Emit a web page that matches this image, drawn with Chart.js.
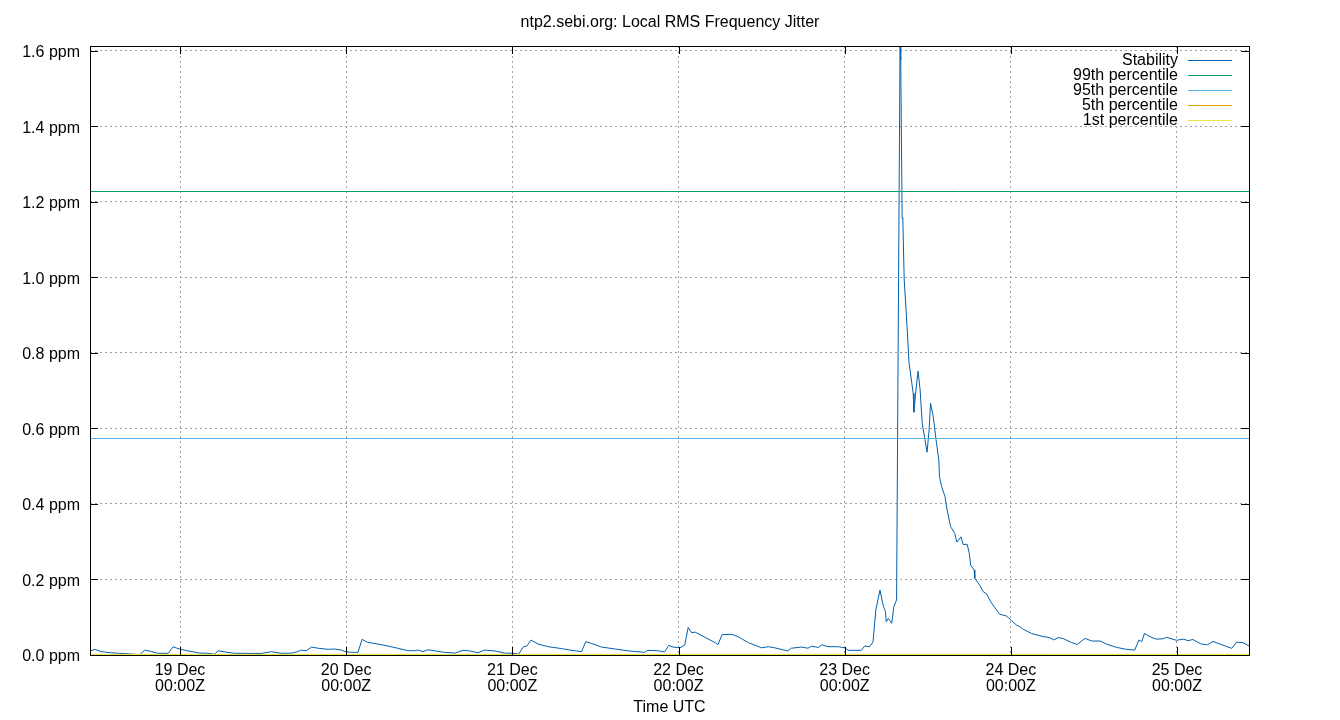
<!DOCTYPE html>
<html>
<head>
<meta charset="utf-8">
<script src="https://cdn.jsdelivr.net/npm/chart.js@4/dist/chart.umd.min.js"></script>
<style>
  html, body { margin: 0; padding: 0; background: #fff; }
  #wrap { width: 1340px; height: 720px; }
</style>
</head>
<body>
<div id="wrap"><canvas id="chart" width="1340" height="720"></canvas></div>
<script>
// hours relative to 19 Dec 00:00Z
const hours = [
  -12.9, -12.3, -11.4, -10.0, -8.7, -5.8, -5.1, -4.1, -3.2, -1.7, -1.0, -0.3,
  1.2, 2.8, 4.0, 5.0, 5.5, 6.5, 7.9, 9.1, 11.7, 13.2, 14.6, 16.1, 17.0, 17.5,
  18.2, 19.0, 19.9, 21.4, 22.3, 23.3, 24.0, 25.2, 25.7, 26.3, 27.1, 28.6, 30.0,
  31.5, 32.9, 33.9, 34.4, 35.1, 35.8, 36.8, 38.2, 39.7, 40.9, 41.8, 43.0, 44.0,
  45.5, 46.9, 48.1, 48.9, 49.6, 50.1, 50.7, 51.7, 53.2, 55.1, 56.6, 58.0, 58.6,
  59.4, 60.9, 62.8, 64.7, 67.1, 67.6, 69.1, 70.0, 70.6, 71.2, 72.2, 72.9, 73.4,
  73.9, 74.4, 75.8, 77.3, 77.7, 78.3, 79.7, 80.6, 82.1, 84.0, 85.0, 85.9, 87.8,
  88.3, 89.8, 90.7, 91.2, 92.2, 92.7, 93.6, 95.1, 96.0, 96.5, 98.4, 98.9, 99.6,
  100.1, 100.5, 101.1, 101.6, 101.9, 102.0, 102.3, 102.8, 103.1, 103.5, 104.0,
  104.1, 104.3, 104.4, 104.6, 104.9, 105.3, 105.7, 105.9, 106.0, 106.3, 106.6,
  106.9, 107.2, 107.6, 107.9, 108.2, 108.4, 108.8, 109.2, 109.6, 109.7, 110.0,
  110.5, 110.8, 111.3, 111.9, 112.2, 112.8, 113.1, 113.7, 114.0, 114.2, 114.7,
  114.8, 115.5, 116.0, 116.5, 117.1, 117.7, 118.4, 119.4, 120.1, 120.8, 121.3,
  121.8, 123.0, 124.7, 125.6, 126.2, 126.8, 127.5, 128.8, 129.6, 130.7, 131.7,
  132.9, 133.8, 135.3, 136.7, 137.9, 138.5, 138.9, 139.3, 140.1, 141.0, 142.0,
  142.5, 143.9, 144.9, 145.6, 146.3, 147.5, 148.4, 149.2, 150.2, 151.9, 152.6,
  153.5, 154.4
];

// ppm
const stability = [
  0.011, 0.015, 0.009, 0.006, 0.0045, 0.001, 0.013, 0.009, 0.0045, 0.0045, 0.022, 0.017,
  0.0106, 0.0053, 0.0045, 0.002, 0.0114, 0.008, 0.0045, 0.0045, 0.004, 0.0088, 0.0045, 0.005, 0.0088, 0.013,
  0.011, 0.021, 0.018, 0.015, 0.016, 0.013, 0.008, 0.007, 0.007, 0.0415, 0.0336, 0.029, 0.0238,
  0.0177, 0.0114, 0.0114, 0.013, 0.0088, 0.014, 0.011, 0.007, 0.005, 0.0124, 0.011, 0.006, 0.013,
  0.0106, 0.005, 0.0045, 0.002, 0.022, 0.0236, 0.0397, 0.029, 0.022, 0.017, 0.0124, 0.0088, 0.0353,
  0.0309, 0.021, 0.016, 0.011, 0.007, 0.0124, 0.011, 0.008, 0.0256, 0.021, 0.019, 0.0265, 0.073,
  0.059, 0.0606, 0.047, 0.0327, 0.0274, 0.0539, 0.0547, 0.0486, 0.0327, 0.019, 0.022, 0.019, 0.0106,
  0.018, 0.021, 0.018, 0.0234, 0.02, 0.027, 0.022, 0.022, 0.019, 0.0124, 0.0124, 0.024, 0.022,
  0.035, 0.119, 0.172, 0.128, 0.115, 0.088, 0.097, 0.084, 0.128, 0.146, 1.613,
  1.576, 1.157, 1.155, 0.993, 0.905, 0.773, 0.720, 0.693, 0.643, 0.702, 0.752,
  0.702, 0.614, 0.570, 0.537, 0.596, 0.667, 0.631, 0.570, 0.517, 0.472, 0.446,
  0.419, 0.384, 0.340, 0.322, 0.299, 0.313, 0.293, 0.293, 0.269, 0.238, 0.225,
  0.203, 0.185, 0.168, 0.162, 0.141, 0.125, 0.108, 0.103, 0.091, 0.0795, 0.075,
  0.068, 0.057, 0.0486, 0.046, 0.040, 0.046, 0.044, 0.0327, 0.028, 0.044, 0.037,
  0.037, 0.029, 0.020, 0.015, 0.013, 0.040, 0.035, 0.057, 0.0486, 0.042, 0.043,
  0.047, 0.039, 0.042, 0.038, 0.041, 0.029, 0.027, 0.036, 0.029, 0.0177, 0.0336,
  0.033, 0.024
];

const timeStart = -13.0;
const timeEnd = 154.4;

const p99 = 1.2276;
const p95 = 0.5734;
const p5 = 0.0015;
const p1 = 0.0013;

const tickHours = [0, 24, 48, 72, 96, 120, 144];
const tickDays = ["19 Dec", "20 Dec", "21 Dec", "22 Dec", "23 Dec", "24 Dec", "25 Dec"];
const tickTime = "00:00Z";
const yTicks = [0, 0.2, 0.4, 0.6, 0.8, 1.0, 1.2, 1.4, 1.6];
const yMax = 1.613;

const titleText = "ntp2.sebi.org: Local RMS Frequency Jitter";
const FONT = "'Liberation Sans', Arial, sans-serif";

function flat(v) {
  return [{ x: timeStart, y: v }, { x: timeEnd, y: v }];
}

// gnuplot style title, box, inward ticks and opaque key
const gnuplotFrame = {
  id: "gnuplotFrame",
  afterDatasetsDraw(chart) {
    const { ctx, chartArea: a, scales } = chart;
    ctx.save();

    ctx.font = "16px " + FONT;
    ctx.fillStyle = "#000";
    ctx.textAlign = "center";
    ctx.textBaseline = "middle";
    ctx.fillText(titleText, chart.width / 2, 23);

    // key
    ctx.fillStyle = "#fff";
    ctx.fillRect(1060, 52, a.right - 1 - 1060, 74);
    ctx.textAlign = "right";
    chart.data.datasets.forEach((ds, i) => {
      const y = 59 + i * 15;
      ctx.fillStyle = "#000";
      ctx.fillText(ds.label, 1178, y + 2);
      ctx.strokeStyle = ds.borderColor;
      ctx.lineWidth = 1;
      ctx.beginPath();
      ctx.moveTo(1188, y + 1.5);
      ctx.lineTo(1232, y + 1.5);
      ctx.stroke();
    });

    ctx.strokeStyle = "#000";
    ctx.lineWidth = 1;
    ctx.beginPath();
    tickHours.forEach(h => {
      const x = Math.round(scales.x.getPixelForValue(h)) + 0.5;
      ctx.moveTo(x, a.bottom); ctx.lineTo(x, a.bottom - 8);
      ctx.moveTo(x, a.top); ctx.lineTo(x, a.top + 8);
    });
    yTicks.forEach(v => {
      const y = Math.round(scales.y.getPixelForValue(v)) + 0.5;
      ctx.moveTo(a.left, y); ctx.lineTo(a.left + 8, y);
      ctx.moveTo(a.right, y); ctx.lineTo(a.right - 8, y);
    });
    ctx.stroke();
    ctx.strokeRect(Math.round(a.left) + 0.5, Math.round(a.top) + 0.5,
      Math.round(a.right - a.left), Math.round(a.bottom - a.top));
    ctx.restore();
  }
};

const lineOpts = { borderWidth: 1, pointRadius: 0, tension: 0, fill: false };

new Chart(document.getElementById("chart"), {
  type: "line",
  data: {
    datasets: [
      { label: "Stability", data: hours.map((h, i) => ({ x: h, y: stability[i] })),
        borderColor: "#0060ad", order: 5, ...lineOpts },
      { label: "99th percentile", data: flat(p99), borderColor: "#009e73", order: 4, ...lineOpts },
      { label: "95th percentile", data: flat(p95), borderColor: "#56b4e9", order: 3, ...lineOpts },
      { label: "5th percentile", data: flat(p5), borderColor: "#e69f00", order: 2, ...lineOpts },
      { label: "1st percentile", data: flat(p1), borderColor: "#f0e442", order: 1, ...lineOpts }
    ]
  },
  options: {
    responsive: false,
    animation: false,
    layout: { padding: { left: 0, right: 91, top: 46, bottom: 0 } },
    plugins: {
      legend: { display: false },
      tooltip: { enabled: false },
      title: { display: false }
    },
    scales: {
      x: {
        type: "linear",
        min: timeStart,
        max: timeEnd,
        afterBuildTicks: s => { s.ticks = tickHours.map(v => ({ value: v })); },
        afterFit: s => { s.height = 65; },
        ticks: {
          color: "#000",
          padding: 8,
          maxRotation: 0,
          autoSkip: false,
          font: { family: FONT, size: 16, lineHeight: 1 },
          callback: v => [tickDays[tickHours.indexOf(v)], tickTime]
        },
        grid: { color: "#a0a0a0", lineWidth: 1, drawTicks: false },
        border: { display: false, dash: [2, 3] },
        title: {
          display: true,
          text: "Time UTC",
          color: "#000",
          font: { family: FONT, size: 16, lineHeight: 1 },
          padding: { top: 0, bottom: 4 }
        }
      },
      y: {
        type: "linear",
        min: 0,
        max: yMax,
        afterBuildTicks: s => { s.ticks = yTicks.map(v => ({ value: v })); },
        afterFit: s => { s.width = 90; },
        ticks: {
          color: "#000",
          padding: 10,
          labelOffset: 2,
          font: { family: FONT, size: 16 },
          callback: v => v.toFixed(1) + " ppm"
        },
        grid: { color: "#a0a0a0", lineWidth: 1, drawTicks: false },
        border: { display: false, dash: [2, 3] }
      }
    }
  },
  plugins: [gnuplotFrame]
});
</script>
</body>
</html>
